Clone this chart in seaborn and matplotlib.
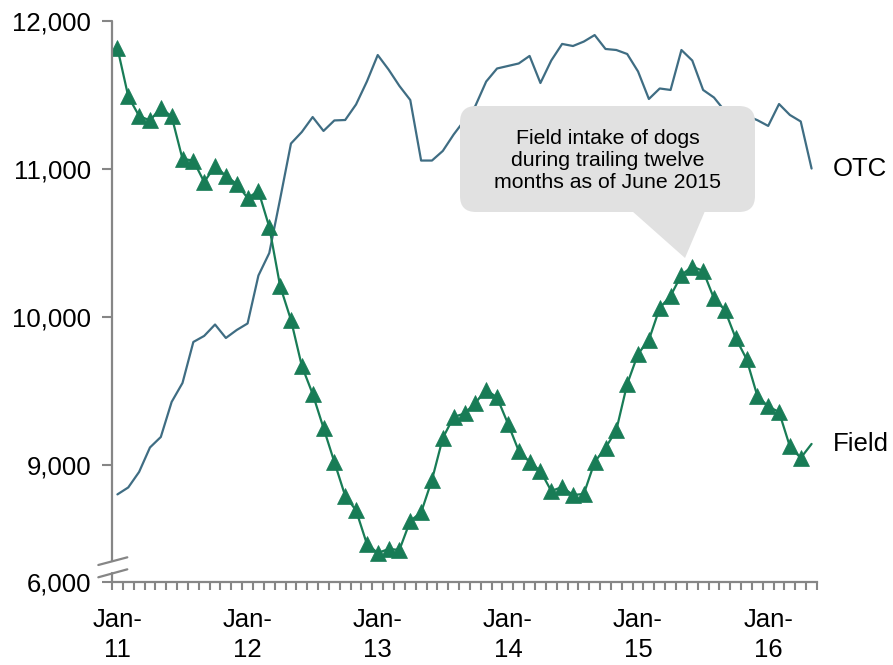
import numpy as np
import matplotlib
matplotlib.use("Agg")
import matplotlib.pyplot as plt
import seaborn as sns
from matplotlib.patches import FancyBboxPatch, Polygon
from matplotlib.transforms import IdentityTransform

# monthly values, Jan-11 .. May-16 (trailing twelve months)
field = [11818, 11490, 11358, 11328, 11412, 11355, 11068, 11057, 10912, 11020,
         10953, 10899, 10804, 10851, 10608, 10209, 9980, 9669, 9480, 9250,
         9020, 8791, 8693, 8466, 8405, 8432, 8426, 8622, 8679, 8899,
         9182, 9324, 9348, 9419, 9507, 9456, 9280, 9095, 9020, 8959,
         8824, 8851, 8797, 8804, 9020, 9115, 9236, 9547, 9750, 9845,
         10061, 10142, 10284, 10341, 10311, 10125, 10047, 9858, 9716, 9466,
         9395, 9358, 9125, 9047, 9142]
otc = [8801, 8848, 8953, 9118, 9189, 9426, 9554, 9831, 9872, 9949,
       9858, 9912, 9956, 10280, 10432, 10797, 11172, 11250, 11351, 11257,
       11328, 11331, 11436, 11591, 11770, 11672, 11561, 11466, 11057, 11057,
       11122, 11233, 11330, 11426, 11591, 11679, 11696, 11713, 11764, 11581,
       11733, 11845, 11831, 11861, 11905, 11811, 11804, 11777, 11659, 11473,
       11544, 11534, 11804, 11733, 11534, 11483, 11392, 11370, 11360, 11330,
       11291, 11439, 11365, 11321, 11003]
tick_pos = [0, 12, 24, 36, 48, 60]
tick_labels = ["Jan-\n11", "Jan-\n12", "Jan-\n13", "Jan-\n14", "Jan-\n15", "Jan-\n16"]
y_ticks = [8209, 9000, 10000, 11000, 12000]   # bottom one sits below the axis break
y_labels = ["6,000", "9,000", "10,000", "11,000", "12,000"]
callout = "Field intake of dogs\nduring trailing twelve\nmonths as of June 2015"

FIELD_COLOR = "#187c56"
OTC_COLOR = "#3f6d83"
AXIS_COLOR = "#868686"

sns.set_style("white")
plt.rcParams["font.family"] = ["Liberation Sans", "DejaVu Sans"]
plt.rcParams["text.color"] = "black"
plt.rcParams["xtick.labelcolor"] = "black"
plt.rcParams["ytick.labelcolor"] = "black"

W, H = 893, 665
fig, ax = plt.subplots(figsize=(W / 100, H / 100), dpi=100)
fig.subplots_adjust(left=112 / W, right=817 / W, top=1 - 21 / H, bottom=1 - 582 / H)

x = np.arange(len(field))
sns.lineplot(x=x, y=otc, ax=ax, color=OTC_COLOR, linewidth=1.6)
sns.lineplot(x=x, y=field, ax=ax, color=FIELD_COLOR, linewidth=1.6,
             marker="^", markersize=11, markeredgecolor=FIELD_COLOR,
             markeredgewidth=0.5, markevery=list(range(len(field) - 1)))

ax.set_xlim(-0.5, len(field) - 0.5)
ax.set_ylim(y_ticks[0], 12000)

# spines
for s in ["top", "right", "left"]:
    ax.spines[s].set_visible(False)
ax.spines["bottom"].set_color(AXIS_COLOR)
ax.spines["bottom"].set_linewidth(1.6)

# left axis with a break
ax.plot([0, 0], [1, 0.0381], transform=ax.transAxes, color=AXIS_COLOR, lw=1.6, clip_on=False)
ax.plot([0, 0], [0.0162, 0], transform=ax.transAxes, color=AXIS_COLOR, lw=1.6, clip_on=False)
for y0, y1 in [(0.0303, 0.0440), (0.0084, 0.0226)]:
    ax.plot([-0.0194, 0.0217], [y0, y1], transform=ax.transAxes, color=AXIS_COLOR,
            lw=1.6, clip_on=False, zorder=6)

# x ticks: marks at month boundaries, labels at January
ax.set_xticks(np.arange(-0.5, len(field), 1))
ax.set_xticklabels([])
ax.set_xticks(tick_pos, minor=True)
ax.set_xticklabels(tick_labels, minor=True, fontsize=18.5, linespacing=1.3)
ax.tick_params(axis="x", which="major", direction="out", length=6, width=1.5,
               color=AXIS_COLOR, bottom=True)
ax.tick_params(axis="x", which="minor", length=0, pad=19, bottom=True)

ax.set_yticks(y_ticks)
ax.set_yticklabels(y_labels, fontsize=18.5)
ax.tick_params(axis="y", direction="out", length=7, width=1.5, color=AXIS_COLOR,
               pad=8, left=True)

# series labels at the right
ax.text(len(field) + 0.95, otc[-1], "OTC", fontsize=18.5, va="center", ha="left", clip_on=False)
ax.text(len(field) + 0.95, field[-1], "Field", fontsize=18.5, va="center", ha="left", clip_on=False)

# callout (pixel coordinates)
box = FancyBboxPatch((460, H - 212), 295, 106, boxstyle="round,pad=0,rounding_size=16",
                     transform=IdentityTransform(), facecolor="#e1e1e1", edgecolor="none",
                     zorder=5)
fig.add_artist(box)
tip = Polygon([(632, H - 211), (705, H - 211), (685, H - 258)], closed=True,
              transform=IdentityTransform(), facecolor="#e1e1e1", edgecolor="none", zorder=5)
fig.add_artist(tip)
fig.text(607.5 / W, 1 - 161 / H, callout, fontsize=15.3, ha="center", va="center",
         linespacing=1.2, zorder=6)

fig.savefig("out.png", dpi=100)
